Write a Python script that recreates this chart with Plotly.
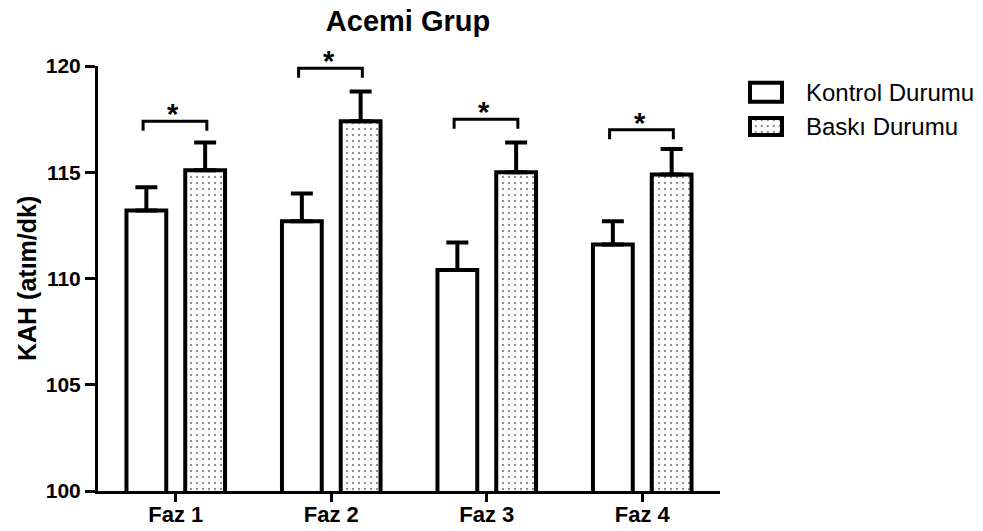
import plotly.graph_objects as go

# --- data -------------------------------------------------------------
phases = ["Faz 1", "Faz 2", "Faz 3", "Faz 4"]
series_names = ["Kontrol Durumu", "Baskı Durumu"]
kontrol = [113.2, 112.7, 110.4, 111.6]
kontrol_err = [1.1, 1.3, 1.3, 1.1]
baski = [115.1, 117.4, 115.0, 114.9]
baski_err = [1.3, 1.4, 1.4, 1.2]
# significance brackets (height of the bracket line, in y units)
bracket_y = [117.4, 119.9, 117.5, 117.0]
star_text = ["*", "*", "*", "*"]
y_ticks = [100, 105, 110, 115, 120]

# --- geometry ---------------------------------------------------------
W, H = 983, 531
ML, MR, MT, MB = 98, 20, 66, 40
PW, PH = W - ML - MR, H - MT - MB


def px_x(p):
    return (p - ML) / PW


def px_y(p):
    return (H - MB - p) / PH


FONT = "Liberation Sans, Arial, sans-serif"
idx = list(range(len(phases)))
bar_w = 0.256
drop = 0.45

outline = dict(color="black", width=4)
dots = dict(shape=".", size=6, solidity=0.12, fgcolor="#1e1e1e",
            bgcolor="white", fillmode="overlay")


def err(vals):
    return dict(type="data", array=vals, arrayminus=[0] * len(vals),
                symmetric=False, thickness=4, width=11, color="black")


fig = go.Figure()
fig.add_trace(go.Bar(
    x=idx, y=kontrol, width=bar_w, offset=-0.317, name=series_names[0],
    marker=dict(color="white", line=outline), error_y=err(kontrol_err),
    showlegend=False, hoverinfo="skip"))
fig.add_trace(go.Bar(
    x=idx, y=baski, width=bar_w, offset=0.061, name=series_names[1],
    marker=dict(color="white", line=outline, pattern=dots),
    error_y=err(baski_err), showlegend=False, hoverinfo="skip"))

# legend swatches drawn as bars on a small helper axis pair
fig.add_trace(go.Bar(
    x=[1], y=[1], base=0, orientation="h", width=0.55,
    marker=dict(color="white", line=outline), xaxis="x2", yaxis="y2",
    cliponaxis=False, showlegend=False, hoverinfo="skip"))
fig.add_trace(go.Bar(
    x=[1], y=[0], base=0, orientation="h", width=0.5,
    marker=dict(color="white", line=outline, pattern=dots), xaxis="x2",
    yaxis="y2", cliponaxis=False, showlegend=False, hoverinfo="skip"))

shapes = []
annotations = []
for i, by in enumerate(bracket_y):
    x0, x1 = i - 0.21, i + 0.20
    shapes.append(dict(
        type="path", xref="x", yref="y",
        path=f"M{x0},{by - drop} L{x0},{by} L{x1},{by} L{x1},{by - drop}",
        line=dict(color="black", width=3)))
    annotations.append(dict(
        x=(x0 + x1) / 2 - 0.01, y=by, xref="x", yref="y",
        text=f"<b>{star_text[i]}</b>", showarrow=False, yanchor="bottom",
        yshift=-11, font=dict(family=FONT, size=29, color="black")))

# legend labels
for name, py in zip(series_names, [92.2, 126.5]):
    annotations.append(dict(
        x=px_x(804), y=px_y(py), xref="paper", yref="paper", text=name,
        showarrow=False, xanchor="left", yanchor="middle",
        font=dict(family=FONT, size=24, color="black")))

# y-axis title
annotations.append(dict(
    x=px_x(27), y=px_y(279), xref="paper", yref="paper",
    text="<b>KAH (atım/dk)</b>", textangle=-90, showarrow=False,
    xanchor="center", yanchor="middle",
    font=dict(family=FONT, size=25, color="black")))

axis_common = dict(showline=True, linecolor="black", linewidth=3,
                   ticks="outside", tickwidth=3, tickcolor="black",
                   showgrid=False, zeroline=False, automargin=False)

fig.update_layout(
    width=W, height=H,
    margin=dict(l=ML, r=MR, t=MT, b=MB, pad=0, autoexpand=False),
    paper_bgcolor="white", plot_bgcolor="white",
    font=dict(family=FONT, color="black"),
    title=dict(text="<b>Acemi Grup</b>", xref="container", yref="container",
               x=408 / W, y=1 - 21 / H, xanchor="center", yanchor="middle",
               automargin=False,
               font=dict(family=FONT, size=29, color="black")),
    barmode="overlay",
    xaxis=dict(domain=[0, px_x(720)], range=[-0.5, 3.5], tickvals=idx,
               ticktext=phases, ticklen=8, ticklabelstandoff=-6,
               tickfont=dict(family=FONT, size=22, color="black",
                             weight="bold"), **axis_common),
    yaxis=dict(range=[100, 120], tickvals=y_ticks, ticklen=10,
               tickfont=dict(family=FONT, size=21, color="black",
                             weight="bold"), **axis_common),
    xaxis2=dict(domain=[px_x(746.8), px_x(785.2)], range=[-0.1, 1.1],
                visible=False, anchor="y2", fixedrange=True),
    yaxis2=dict(domain=[px_y(143.65), px_y(75.05)], range=[-0.5, 1.5],
                visible=False, anchor="x2", fixedrange=True),
    shapes=shapes,
    annotations=annotations,
    showlegend=False,
)

fig.write_html("out.html")
